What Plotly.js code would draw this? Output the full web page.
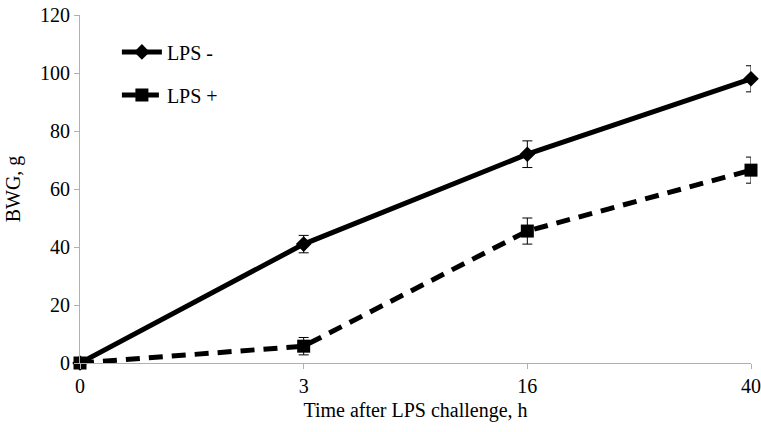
<!DOCTYPE html>
<html>
<head>
<meta charset="utf-8">
<script src="https://cdn.plot.ly/plotly-3.0.1.min.js"></script>
<style>html,body{margin:0;padding:0;background:#fff;}#chart{width:761px;height:432px;}</style>
</head>
<body>
<div id="chart"></div>
<script>
const categories = ['0', '3', '16', '40'];
const lpsMinus = [0, 41, 72, 98];
const lpsMinusErr = [0, 3, 4.6, 4.5];
const lpsPlus = [0, 5.8, 45.5, 66.5];
const lpsPlusErr = [0, 3, 4.5, 4.5];
const seriesNames = ['LPS -', 'LPS +'];

const traces = [
  {
    x: categories, y: lpsMinus, name: seriesNames[0], type: 'scatter', mode: 'lines+markers',
    line: {color: '#000', width: 5},
    marker: {symbol: 'diamond', size: 12, color: '#000'},
    error_y: {type: 'data', array: lpsMinusErr, visible: true, color: '#000', thickness: 1, width: 5},
    cliponaxis: false, legendgroup: 'a'
  },
  {
    x: categories, y: lpsPlus, name: seriesNames[1], type: 'scatter', mode: 'lines+markers',
    line: {color: '#000', width: 5, dash: '14px,9px'},
    marker: {symbol: 'square', size: 13, color: '#000'},
    error_y: {type: 'data', array: lpsPlusErr, visible: true, color: '#000', thickness: 1, width: 5},
    cliponaxis: false, legendgroup: 'b'
  }
];

const font = {family: 'Liberation Serif, Times New Roman, Times, serif', size: 20, color: '#000'};

const layout = {
  width: 761, height: 432,
  margin: {l: 80, r: 10, t: 15, b: 69},
  paper_bgcolor: '#fff', plot_bgcolor: '#fff',
  font: font,
  showlegend: true,
  legend: {x: 0.055, y: 0.95, xanchor: 'left', yanchor: 'top', bgcolor: 'rgba(0,0,0,0)',
           font: font, tracegroupgap: 14, traceorder: 'grouped', itemwidth: 40},
  xaxis: {
    type: 'category', range: [0, 3], showgrid: false, zeroline: false,
    showline: true, linecolor: '#b0b0b0', linewidth: 1,
    ticks: 'outside', ticklen: 5, tickcolor: '#b0b0b0',
    tickfont: font,
    title: {text: 'Time after LPS challenge, h', font: font, standoff: 6}
  },
  yaxis: {
    range: [0, 120], dtick: 20, showgrid: false, zeroline: false,
    showline: true, linecolor: '#b0b0b0', linewidth: 1,
    ticks: 'outside', ticklen: 5, tickcolor: '#b0b0b0',
    tickfont: font,
    title: {text: 'BWG, g', font: font, standoff: 14}
  }
};

Plotly.newPlot('chart', traces, layout, {displayModeBar: false, staticPlot: true});
</script>
</body>
</html>
